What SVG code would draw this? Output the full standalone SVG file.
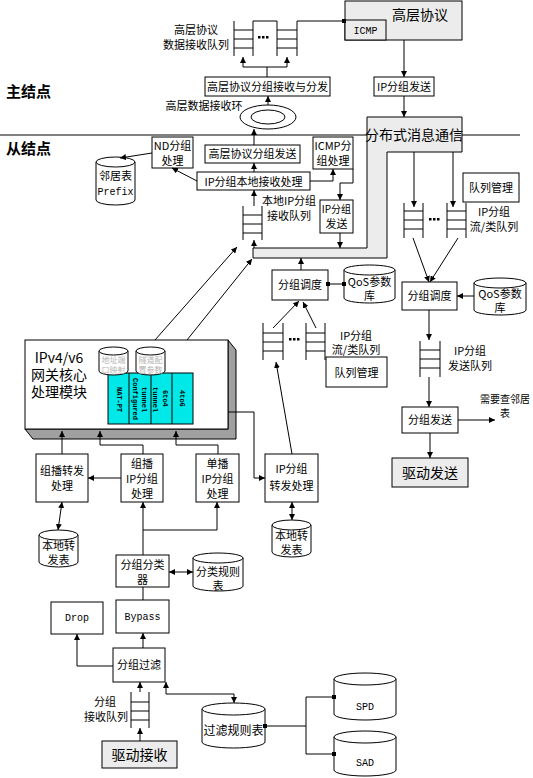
<svg xmlns="http://www.w3.org/2000/svg" width="533" height="778" viewBox="0 0 533 778">
<style>
.b{fill:#fff;stroke:#000;stroke-width:1}
.g{fill:#ececec;stroke:#000;stroke-width:1}
.l{fill:none;stroke:#000;stroke-width:1}
text{font-family:"Noto Sans CJK SC","Liberation Sans",sans-serif;font-size:12px;fill:#000;text-anchor:middle}
.s11{font-size:11px}
.s10{font-size:10px}
.big{font-size:14px}
.hd{font-size:15px;font-weight:bold;text-anchor:start}
.mono{font-family:"Liberation Mono",monospace;font-size:10px}
.rot{font-family:"Liberation Mono",monospace;font-size:7px;font-weight:bold;text-anchor:start}
.fade{font-size:8px;fill:#b4b4b4}
.a{fill:none;stroke:#000;stroke-width:1;marker-end:url(#ah)}
.d{fill:none;stroke:#000;stroke-width:1;marker-start:url(#ah);marker-end:url(#ah)}
.q{fill:none;stroke:#000;stroke-width:1}
</style>
<defs>
<marker id="ah" viewBox="0 0 6 6" refX="6" refY="3" markerWidth="6" markerHeight="6" markerUnits="userSpaceOnUse" orient="auto-start-reverse"><path d="M0,0 L6,3 L0,6 Z" fill="#000"/></marker>
<marker id="sq" viewBox="0 0 4 4" refX="2" refY="2" markerWidth="4" markerHeight="4" markerUnits="userSpaceOnUse"><rect width="4" height="4" fill="#000"/></marker>
</defs>
<rect width="533" height="778" fill="#fff"/>

<g id="divider">
<line class="l" x1="0" y1="135" x2="367" y2="135"/>
<line class="l" x1="462" y1="135" x2="520" y2="135"/>
<text class="hd" x="6" y="97">主结点</text>
<text class="hd" x="6" y="154">从结点</text>
</g>

<g id="dist-msg">
<path class="g" d="M367,117 H462 V152 H387 V258 H253 V248 H367 Z"/>
<text class="big" x="414" y="140">分布式消息通信</text>
</g>

<g id="high-proto">
<rect class="g" x="345" y="1" width="117" height="39"/>
<text class="big" x="420" y="20">高层协议</text>
<rect class="g" x="345" y="20" width="41" height="20"/>
<text class="mono" x="365.5" y="34">ICMP</text>
</g>

<g id="ip-send-master">
<rect class="b" x="374" y="77" width="60" height="19"/>
<text class="s11" x="404" y="91">IP分组发送</text>
</g>

<g id="hp-queues">
<path class="q" d="M234,21 V56 M253,21 V56 M234,30 H253 M234,39 H253 M234,48 H253"/>
<path class="q" d="M277,21 V56 M297,21 V56 M277,30 H297 M277,39 H297 M277,48 H297"/>
<rect x="258" y="36" width="2.5" height="2.5"/><rect x="262" y="36" width="2.5" height="2.5"/><rect x="266" y="36" width="2.5" height="2.5"/>
<text class="s11" x="196" y="34">高层协议</text>
<text class="s11" x="196" y="49">数据接收队列</text>
</g>

<g id="hp-dispatch">
<rect class="b" x="205" y="77" width="125" height="19"/>
<text class="s11" x="267.5" y="91">高层协议分组接收与分发</text>
</g>

<g id="hp-ring">
<ellipse class="b" cx="268" cy="117" rx="28" ry="12"/>
<ellipse class="b" cx="268" cy="117" rx="17" ry="7"/>
<text class="s11" x="204" y="110">高层数据接收环</text>
</g>

<g id="nd-proc">
<rect class="b" x="152" y="137" width="41" height="31"/>
<text class="s11" x="172.5" y="150">ND分组</text>
<text class="s11" x="172.5" y="165">处理</text>
</g>

<g id="neighbor-table">
<path class="b" d="M96,162 V200 A19.5,5 0 0 0 135,200 V162"/>
<ellipse class="b" cx="115.5" cy="162" rx="19.5" ry="5"/>
<text class="s11" x="115.5" y="180">邻居表</text>
<text class="mono" x="115.5" y="195">Prefix</text>
</g>

<g id="hp-send">
<rect class="b" x="205" y="145" width="95" height="18"/>
<text class="s11" x="252.5" y="158">高层协议分组发送</text>
</g>

<g id="icmp-proc">
<rect class="b" x="313" y="137" width="40" height="32"/>
<text class="s11" x="333" y="150">ICMP分</text>
<text class="s11" x="333" y="165">组处理</text>
</g>

<g id="local-recv">
<rect class="b" x="197" y="172" width="113" height="18"/>
<text class="s11" x="253.5" y="185.5">IP分组本地接收处理</text>
</g>

<g id="local-queue">
<path class="q" d="M243,206 V240 M262,206 V240 M243,215 H262 M243,224 H262 M243,233 H262"/>
<text class="s11" x="289" y="205">本地IP分组</text>
<text class="s11" x="289" y="220">接收队列</text>
</g>

<g id="ip-send-slave">
<rect class="b" x="320" y="200" width="33" height="33"/>
<text class="s10" x="336.5" y="213">IP分组</text>
<text class="s11" x="336.5" y="228">发送</text>
</g>

<g id="right-queues">
<path class="q" d="M404,203 V238 M423,203 V238 M404,211 H423 M404,220 H423 M404,229 H423"/>
<path class="q" d="M447,203 V238 M466,203 V238 M447,211 H466 M447,220 H466 M447,229 H466"/>
<rect x="429" y="218" width="2.5" height="2.5"/><rect x="433" y="218" width="2.5" height="2.5"/><rect x="437" y="218" width="2.5" height="2.5"/>
<text class="s11" x="494" y="216">IP分组</text>
<text class="s11" x="494" y="231">流/类队列</text>
</g>

<g id="queue-mgmt-right">
<rect class="b" x="463" y="173" width="56" height="29"/>
<text class="s11" x="491" y="192">队列管理</text>
</g>

<g id="sched-right">
<rect class="b" x="402" y="282" width="55" height="28"/>
<text class="s11" x="429.5" y="300">分组调度</text>
</g>

<g id="qos-right">
<path class="b" d="M474,283 V310 A26,5 0 0 0 526,310 V283"/>
<ellipse class="b" cx="500" cy="283" rx="26" ry="5"/>
<text class="s11" x="500" y="298">QoS参数</text>
<text class="s11" x="500" y="312">库</text>
</g>

<g id="send-queue">
<path class="q" d="M420,341 V377 M440,341 V377 M420,350 H440 M420,359 H440 M420,368 H440"/>
<text class="s11" x="470" y="355">IP分组</text>
<text class="s11" x="470" y="370">发送队列</text>
</g>

<g id="pkt-send">
<rect class="b" x="402" y="407" width="56" height="26"/>
<text class="s11" x="430" y="424">分组发送</text>
<text class="s10" x="505" y="403">需要查邻居</text>
<text class="s10" x="505" y="417">表</text>
</g>

<g id="drv-send">
<rect class="g" x="392" y="458" width="76" height="29"/>
<text class="big" x="430" y="478">驱动发送</text>
</g>

<g id="sched-mid">
<rect class="b" x="272" y="270" width="56" height="30"/>
<text class="s11" x="300" y="289">分组调度</text>
</g>

<g id="qos-mid">
<path class="b" d="M344,270 V298 A25.5,5 0 0 0 395,298 V270"/>
<ellipse class="b" cx="369.5" cy="270" rx="25.5" ry="5"/>
<text class="s11" x="369.5" y="286">QoS参数</text>
<text class="s11" x="369.5" y="300">库</text>
</g>

<g id="mid-queues">
<path class="q" d="M263,323 V360 M283,323 V360 M263,333 H283 M263,342 H283 M263,351 H283"/>
<path class="q" d="M306,323 V360 M325,323 V360 M306,333 H325 M306,342 H325 M306,351 H325"/>
<rect x="289" y="338" width="2.5" height="2.5"/><rect x="293" y="338" width="2.5" height="2.5"/><rect x="297" y="338" width="2.5" height="2.5"/>
<text class="s11" x="356" y="340">IP分组</text>
<text class="s11" x="356" y="354">流/类队列</text>
</g>

<g id="queue-mgmt-mid">
<rect class="b" x="326" y="357" width="61" height="30"/>
<text class="s11" x="356.5" y="377">队列管理</text>
</g>

<g id="gateway-core">
<path d="M228,340 L236,350 V439 H33 L25,429 H228 Z" fill="#a0a0a0" stroke="#000"/>
<rect class="b" x="25" y="340" width="203" height="89"/>
<text class="big" x="59" y="363">IPv4/v6</text>
<text class="big" x="59" y="380">网关核心</text>
<text class="big" x="59" y="397">处理模块</text>
<rect x="108" y="373" width="85" height="51" fill="#00e8e8" stroke="#000"/>
<path class="l" d="M129,373 V424 M151,373 V424 M172,373 V424"/>
<text class="rot" transform="translate(116.5,387) rotate(90)">NAT-PT</text>
<text class="rot" transform="translate(133,378) rotate(90)">Configured</text>
<text class="rot" transform="translate(141.5,387) rotate(90)">tunnel</text>
<text class="rot" transform="translate(153,387) rotate(90)">tunnel</text>
<text class="rot" transform="translate(162.5,390) rotate(90)">6to4</text>
<text class="rot" transform="translate(179.5,390) rotate(90)">4to6</text>
<path class="b" d="M99,351 V371 A14.5,4 0 0 0 128,371 V351"/>
<ellipse class="b" cx="113.5" cy="351" rx="14.5" ry="4"/>
<text class="fade" x="113.5" y="363">地址端</text>
<text class="fade" x="113.5" y="373">口映射</text>
<path class="b" d="M136,351 V371 A14.5,4 0 0 0 165,371 V351"/>
<ellipse class="b" cx="150.5" cy="351" rx="14.5" ry="4"/>
<text class="fade" x="150.5" y="363">隧道配</text>
<text class="fade" x="150.5" y="373">置参数</text>
</g>

<g id="ip-forward">
<rect class="b" x="265" y="454" width="53" height="48"/>
<text class="s11" x="291.5" y="473">IP分组</text>
<text class="s11" x="291.5" y="490">转发处理</text>
</g>

<g id="fwd-table-right">
<path class="b" d="M272,525 V552 A19.5,5 0 0 0 311,552 V525"/>
<ellipse class="b" cx="291.5" cy="525" rx="19.5" ry="5"/>
<text class="s11" x="291.5" y="540">本地转</text>
<text class="s11" x="291.5" y="554">发表</text>
</g>

<g id="mcast-forward">
<rect class="b" x="36" y="454" width="52" height="48"/>
<text class="s11" x="62" y="475">组播转发</text>
<text class="s11" x="62" y="490">处理</text>
</g>

<g id="mcast-ip">
<rect class="b" x="121" y="454" width="42" height="48"/>
<text class="s11" x="142" y="468">组播</text>
<text class="s11" x="142" y="483">IP分组</text>
<text class="s11" x="142" y="498">处理</text>
</g>

<g id="ucast-ip">
<rect class="b" x="196" y="454" width="43" height="48"/>
<text class="s11" x="217.5" y="468">单播</text>
<text class="s11" x="217.5" y="483">IP分组</text>
<text class="s11" x="217.5" y="498">处理</text>
</g>

<g id="fwd-table-left">
<path class="b" d="M39,535 V562 A19.5,5 0 0 0 78,562 V535"/>
<ellipse class="b" cx="58.5" cy="535" rx="19.5" ry="5"/>
<text class="s11" x="58.5" y="550">本地转</text>
<text class="s11" x="58.5" y="564">发表</text>
</g>

<g id="classifier">
<rect class="b" x="116" y="555" width="53" height="32"/>
<text class="s11" x="142.5" y="569">分组分类</text>
<text class="s11" x="142.5" y="584">器</text>
</g>

<g id="class-rules">
<path class="b" d="M193,558 V586 A25,5 0 0 0 243,586 V558"/>
<ellipse class="b" cx="218" cy="558" rx="25" ry="5"/>
<text class="s11" x="218" y="576">分类规则</text>
<text class="s11" x="218" y="590">表</text>
</g>

<g id="bypass">
<rect class="b" x="116" y="600" width="53" height="33"/>
<text class="mono" x="142.5" y="620">Bypass</text>
</g>

<g id="drop">
<rect class="b" x="51" y="602" width="52" height="32"/>
<text class="mono" x="77" y="621">Drop</text>
</g>

<g id="filter">
<rect class="b" x="113" y="648" width="52" height="34"/>
<text class="s11" x="139" y="669">分组过滤</text>
</g>

<g id="recv-queue">
<path class="q" d="M131,692 V728 M149,692 V728 M131,702 H149 M131,711 H149 M131,720 H149"/>
<text class="s11" x="105" y="706">分组</text>
<text class="s11" x="106" y="721">接收队列</text>
</g>

<g id="drv-recv">
<rect class="g" x="102" y="741" width="75" height="27"/>
<text class="big" x="139.5" y="760">驱动接收</text>
</g>

<g id="filter-rules">
<path class="b" d="M202,709 V742 A31.5,6 0 0 0 265,742 V709"/>
<ellipse class="b" cx="233.5" cy="709" rx="31.5" ry="6"/>
<text x="233.5" y="735">过滤规则表</text>
</g>

<g id="spd">
<path class="b" d="M334,679 V714 A31,6 0 0 0 396,714 V679"/>
<ellipse class="b" cx="365" cy="679" rx="31" ry="6"/>
<text class="mono" x="365" y="710">SPD</text>
</g>

<g id="sad">
<path class="b" d="M334,737 V770 A31,6 0 0 0 396,770 V737"/>
<ellipse class="b" cx="365" cy="737" rx="31" ry="6"/>
<text class="mono" x="365" y="766">SAD</text>
</g>

<g id="connectors">
<path class="l" d="M253,21 H277 M297,21 H344" marker-end="url(#sq)"/>
<path class="l" d="M267,77 V67 M243,67 H287"/>
<path class="a" d="M243,67 V57"/>
<path class="a" d="M287,67 V57"/>
<path class="a" d="M268,105 V96"/>
<path class="a" d="M404,40 V77"/>
<path class="a" d="M404,96 V117"/>
<path class="a" d="M254,145 V129"/>
<path class="a" d="M254,172 V163"/>
<path class="a" d="M254,206 V190"/>
<path class="a" d="M254,248 V240"/>
<path class="a" d="M197,181 L172,168"/>
<path class="a" d="M152,153 L120,158"/>
<path class="a" d="M310,181 H333 V169"/>
<path class="a" d="M353,169 V183 H340 V200"/>
<path class="a" d="M340,233 V248"/>
<path class="a" d="M414,152 V207"/>
<path class="a" d="M453,152 V207"/>
<path class="a" d="M413,238 L429,282"/>
<path class="a" d="M458,238 L430,282"/>
<path class="a" d="M474,296 H457"/>
<path class="a" d="M429,310 V340"/>
<path class="a" d="M429,377 V407"/>
<path class="a" d="M458,420 H495"/>
<path class="a" d="M430,433 V458"/>
<path class="a" d="M301,270 V258"/>
<path class="l" d="M328,284 H344" marker-start="url(#sq)" marker-end="url(#sq)"/>
<path class="a" d="M273,328 L299,301"/>
<path class="a" d="M316,328 L303,302"/>
<path class="a" d="M292,454 L276,362"/>
<path class="a" d="M155,340 L237,247"/>
<path class="a" d="M187,340 L252,259"/>
<path class="a" d="M228,412 H254 V478 H265"/>
<path class="d" d="M292,502 V520"/>
<path class="a" d="M62,454 V431"/>
<path class="a" d="M143,454 V445 H100 V431"/>
<path class="a" d="M218,454 V445 H176 V431"/>
<path class="a" d="M121,478 H88"/>
<path class="d" d="M62,502 L58,530"/>
<path class="a" d="M143,555 V502"/>
<path class="a" d="M143,530 H217 V502"/>
<path class="d" d="M169,572 H193"/>
<path class="l" d="M143,587 V600"/>
<path class="a" d="M143,648 V633"/>
<path class="a" d="M113,666 H77 V634"/>
<path class="a" d="M140,692 V682"/>
<path class="a" d="M140,741 V728"/>
<path class="d" d="M166,682 V694 H234 V703"/>
<path class="l" d="M265,726 H306 M306,697 V754" marker-start="url(#sq)"/>
<path class="l" d="M306,697 H334" marker-end="url(#sq)"/>
<path class="l" d="M306,754 H334" marker-end="url(#sq)"/>
</g>
</svg>
